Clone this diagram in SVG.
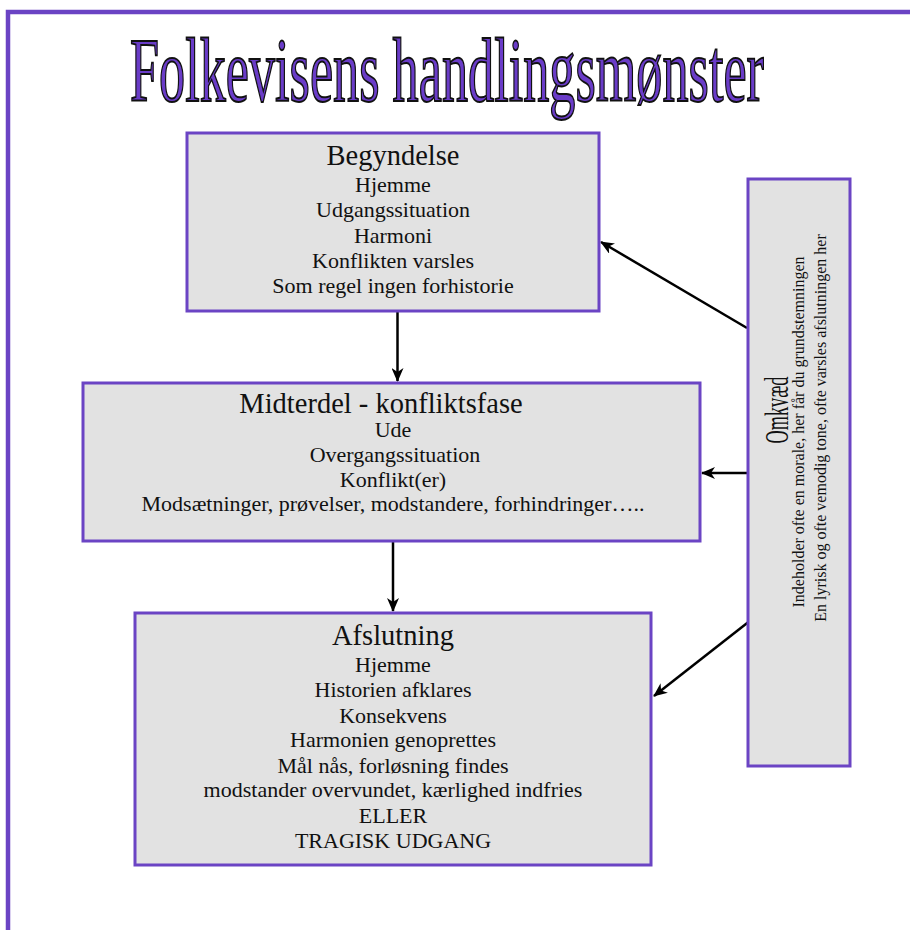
<svg xmlns="http://www.w3.org/2000/svg" width="910" height="930" viewBox="0 0 910 930">
<style>
.box{fill:#e2e2e2;stroke:#6b44c4;stroke-width:3}
.t{font-family:'Liberation Serif',serif;fill:#111;text-anchor:middle}
.h{font-size:28.5px}
.b{font-size:22px}
.c{stroke:#000;stroke-width:2.5;fill:none;marker-end:url(#ah)}
</style>
<defs>
<marker id="ah" markerUnits="userSpaceOnUse" markerWidth="14" markerHeight="12" viewBox="0 0 14 12" refX="13" refY="6" orient="auto">
<path d="M0,0 L14,6 L0,12 L4,6 z" fill="#000"/>
</marker>
</defs>
<rect x="0" y="0" width="910" height="930" fill="#fff"/>
<path d="M8,930 V12 H910" fill="none" stroke="#6b44c4" stroke-width="4.5"/>
<g id="title">
<text x="447" y="101" font-family="Liberation Serif,serif" font-size="90" text-anchor="middle" textLength="634" lengthAdjust="spacingAndGlyphs" fill="#6a3cc8" stroke="#111" stroke-width="2">Folkevisens handlingsmønster</text>
</g>
<g id="connectors">
<line class="c" x1="397.5" y1="312" x2="397.5" y2="381"/>
<line class="c" x1="393" y1="542" x2="393" y2="611"/>
<line class="c" x1="747" y1="328" x2="601" y2="242"/>
<line class="c" x1="747" y1="473" x2="702" y2="473"/>
<line class="c" x1="751" y1="620" x2="654" y2="696"/>
</g>
<g id="begyndelse" font-family="Liberation Serif,serif">
<rect class="box" x="187" y="133" width="412" height="178"/>
<text class="t h" x="393" y="165">Begyndelse</text>
<text class="t b" x="393" y="192">Hjemme</text>
<text class="t b" x="393" y="217">Udgangssituation</text>
<text class="t b" x="393" y="243">Harmoni</text>
<text class="t b" x="393" y="268">Konflikten varsles</text>
<text class="t b" x="393" y="293">Som regel ingen forhistorie</text>
</g>
<g id="midterdel" font-family="Liberation Serif,serif">
<rect class="box" x="83" y="383" width="617" height="158"/>
<text class="t h" x="381" y="413">Midterdel - konfliktsfase</text>
<text class="t b" x="393" y="437">Ude</text>
<text class="t b" x="395" y="462">Overgangssituation</text>
<text class="t b" x="393" y="487">Konflikt(er)</text>
<text class="t b" x="393" y="511">Modsætninger, prøvelser, modstandere, forhindringer…..</text>
</g>
<g id="afslutning" font-family="Liberation Serif,serif">
<rect class="box" x="135" y="613" width="516" height="252"/>
<text class="t h" x="393" y="645">Afslutning</text>
<text class="t b" x="393" y="672">Hjemme</text>
<text class="t b" x="393" y="697">Historien afklares</text>
<text class="t b" x="393" y="723">Konsekvens</text>
<text class="t b" x="393" y="747">Harmonien genoprettes</text>
<text class="t b" x="393" y="773">Mål nås, forløsning findes</text>
<text class="t b" x="393" y="797">modstander overvundet, kærlighed indfries</text>
<text class="t b" x="393" y="823">ELLER</text>
<text class="t b" x="393" y="848">TRAGISK UDGANG</text>
</g>
<g id="omkvaed" font-family="Liberation Serif,serif">
<rect class="box" x="748" y="179" width="102" height="587"/>
<text class="t" font-size="34" transform="translate(788,410) rotate(-90)" textLength="67" lengthAdjust="spacingAndGlyphs">Omkvæd</text>
<text class="t" font-size="16" transform="translate(804,432) rotate(-90)">Indeholder ofte en morale, her får du grundstemningen</text>
<text class="t" font-size="16" transform="translate(826,428) rotate(-90)">En lyrisk og ofte vemodig tone, ofte varsles afslutningen her</text>
</g>
</svg>
